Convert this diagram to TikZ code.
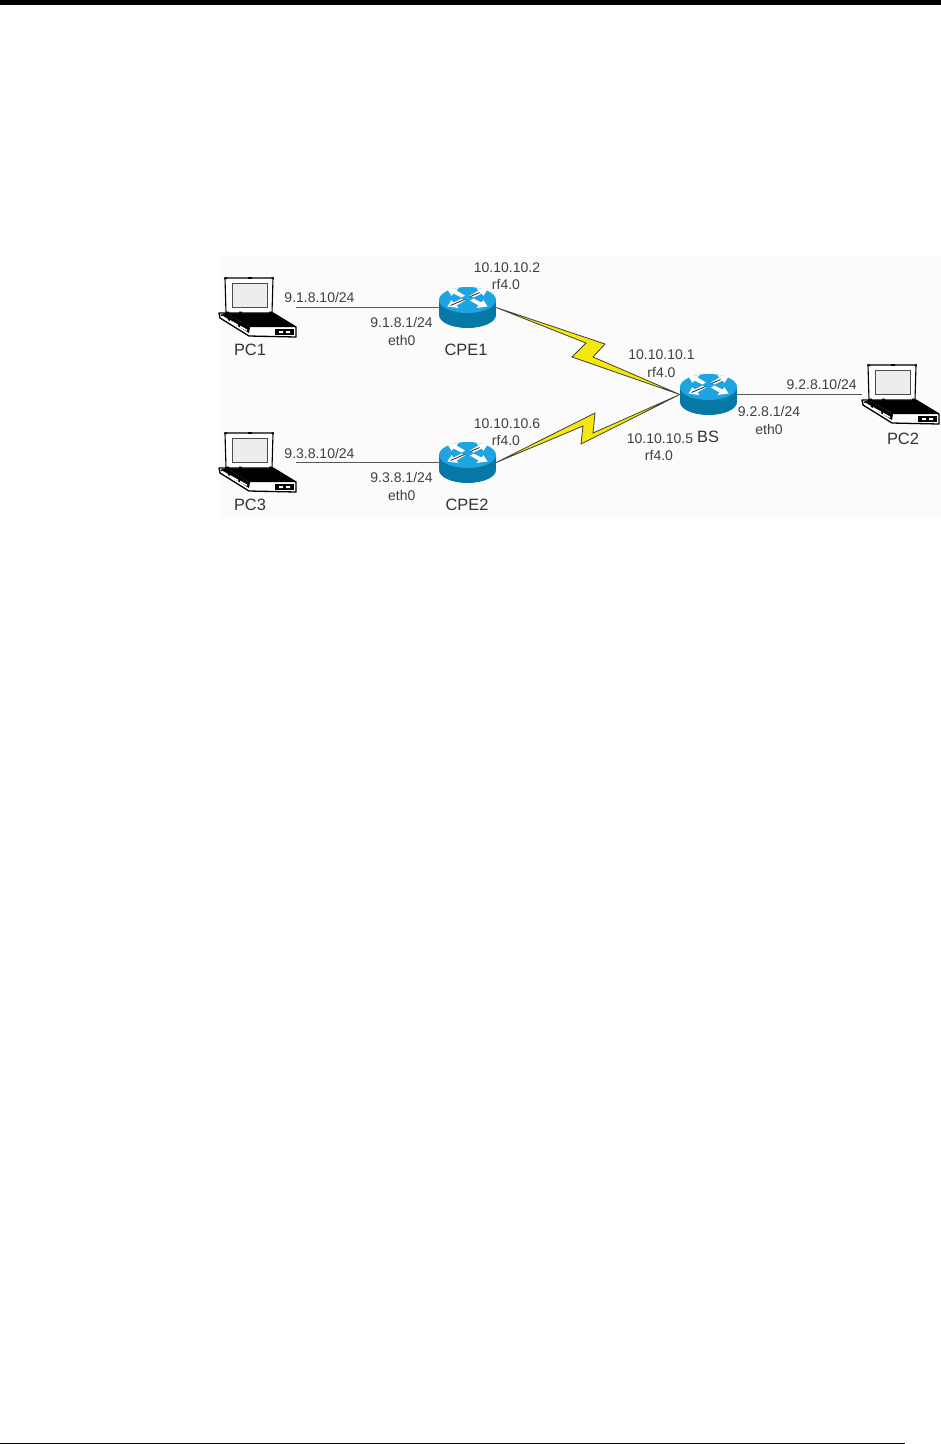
\documentclass[tikz,border=0pt]{standalone}
\usepackage{fontspec}
\setmainfont{Liberation Sans}
\definecolor{rttop}{RGB}{30,165,225}
\definecolor{rtside}{RGB}{5,120,165}
\definecolor{panel}{RGB}{251,251,251}
\tikzset{
  lbl/.style={font=\fontsize{14}{14}\selectfont,text=black!75,inner sep=0pt,text height=10pt,text depth=0pt,anchor=center},
  nm/.style={font=\fontsize{16.4}{16}\selectfont,text=black!80,inner sep=0pt,text height=11.5pt,text depth=0pt,anchor=center},
  lapbox/.style={rectangle,inner sep=0pt,minimum width=77pt,minimum height=59pt},
  rtbox/.style={rectangle,inner sep=0pt,minimum width=57pt,minimum height=41pt},
  eth/.style={draw=black!65,line width=1.2pt},
  bolt/.style={draw=black!85!yellow,line width=.8pt,fill=yellow!95!black,line join=miter},
  rtarrow/.pic={
    \fill[white] (-20,-8.5) -- (-9,-10) -- (-11,-7.5) -- (-2.5,-2.5) -- (-6,-.5) -- (-14,-4.5) -- (-16,-2.2) -- cycle;
  },
  laptop/.pic={
    \begin{scope}[shift={(-32.5,-29.5)}]
      \filldraw[fill=white,draw=black,line width=1.3pt,line join=round] (-6,35) -- (-5,40) -- (24,58) -- (71,59) -- (71,49) -- (48,35) -- cycle;
      \fill[black] (1,35) -- (48,35) -- (71,49) -- (25,49) -- cycle;
      \fill[black] (-5,37) -- (1,35) -- (25,49) -- (24,55) -- cycle;
      \fill[white] (-3,37.5) -- (3,41) -- (2,42.5) -- (-3,39.5) -- cycle;
      \fill[white] (5,42) -- (13,46.5) -- (13,48) -- (5,44) -- cycle;
      \fill[white] (15,47.5) -- (22,51.5) -- (22,53) -- (15,49.5) -- cycle;
      \fill[black] (50,51) rectangle (69,57);
      \fill[white] (54,53) rectangle (58,55) (61,53) rectangle (65,55);
      \filldraw[fill=white,draw=black,line width=1.1pt] (0,0) -- (48,0) -- (47,35) -- (1,35) -- cycle;
      \filldraw[fill=black!7,draw=black!70,line width=.8pt] (7,5) rectangle (42,29);
      \fill[black] (23,-.8) rectangle (27,.8);
      \fill[black] (-.7,-.7) rectangle (2,1.2) (46.5,-.7) rectangle (48.8,1.2);
      \fill[black] (1,33.5) rectangle (4,35.5) (14,33.5) rectangle (17,35.5) (44,33.5) rectangle (47,35.5);
    \end{scope}
  },
  router/.pic={
    \fill[rtside] (-28.5,-7.5) rectangle (28.5,7.5);
    \fill[rtside] (0,7.5) ellipse[x radius=28.5,y radius=13];
    \fill[rttop] (0,-7.5) ellipse[x radius=28.5,y radius=13];
    \pic at (0,-9.5) {rtarrow};
    \pic[xscale=-1] at (0,-9.5) {rtarrow};
    \pic[yscale=-1] at (0,-9.5) {rtarrow};
    \pic[xscale=-1,yscale=-1] at (0,-9.5) {rtarrow};
    \draw[black!85,line width=.8pt] (-17,-2) -- (-3,-8);
    \draw[black!85,line width=.8pt] (3,-11) -- (12,-15);
  }
}
\begin{document}
\begin{tikzpicture}[x=1pt,y=-1pt]
\useasboundingbox (0,0) rectangle (941,1444);
\fill[white] (0,0) rectangle (941,1444);
\fill[panel] (220,255) rectangle (941,518);
\fill[black] (0,0) rectangle (941,5);
\fill[black] (0,1443) rectangle (905,1444);

% device boxes
\node[lapbox] (pc1) at (257.5,307.5) {};
\node[lapbox] (pc3) at (257.5,462.5) {};
\node[lapbox] (pc2) at (900.5,394.5) {};
\node[rtbox] (cpe1) at (467.5,307.5) {};
\node[rtbox] (cpe2) at (467.5,462.5) {};
\node[rtbox] (bs) at (708.5,394.5) {};

% connectors
\draw[eth] (pc1.east) -- (cpe1.west);
\draw[eth] (pc3.east) -- (cpe2.west);
\draw[eth] (bs.east) -- (pc2.west);
\draw[bolt] (cpe1.east) -- (605,344) -- (593,357) -- (bs.west) -- (572,357) -- (586,343) -- cycle;
\draw[bolt] (cpe2.east) -- (595,413) -- (593,433) -- (bs.west) -- (581,444) -- (583,426) -- cycle;

% device drawings
\pic at (pc1) {laptop};
\pic at (pc3) {laptop};
\pic at (pc2) {laptop};
\pic at (cpe1) {router};
\pic at (cpe2) {router};
\pic at (bs) {router};

% labels
\node[nm] (tpc1) at (250,349.5) {PC1};
\node[nm] (tpc3) at (250,504.5) {PC3};
\node[nm] (tpc2) at (903,439) {PC2};
\node[nm] (tcpe1) at (466,350) {CPE1};
\node[nm] (tcpe2) at (467,505) {CPE2};
\node[nm] (tbs) at (708,437) {BS};

\node[lbl] (a1) at (319.5,297.5) {9.1.8.10/24};
\node[lbl] (a2) at (401.6,322.7) {9.1.8.1/24};
\node[lbl] (a3) at (401.7,340) {eth0};
\node[lbl] (a4) at (507,267) {10.10.10.2};
\node[lbl] (a5) at (506,284) {rf4.0};
\node[lbl] (a6) at (661.5,354) {10.10.10.1};
\node[lbl] (a7) at (661.5,372) {rf4.0};
\node[lbl] (a8) at (660,438) {10.10.10.5};
\node[lbl] (a9) at (659,455) {rf4.0};
\node[lbl] (a10) at (507,423) {10.10.10.6};
\node[lbl] (a11) at (506,440) {rf4.0};
\node[lbl] (a12) at (319.5,453) {9.3.8.10/24};
\node[lbl] (a13) at (401.6,477.3) {9.3.8.1/24};
\node[lbl] (a14) at (401.7,495) {eth0};
\node[lbl] (a15) at (821.7,384) {9.2.8.10/24};
\node[lbl] (a16) at (769,411.7) {9.2.8.1/24};
\node[lbl] (a17) at (769,429.3) {eth0};
\end{tikzpicture}
\end{document}
